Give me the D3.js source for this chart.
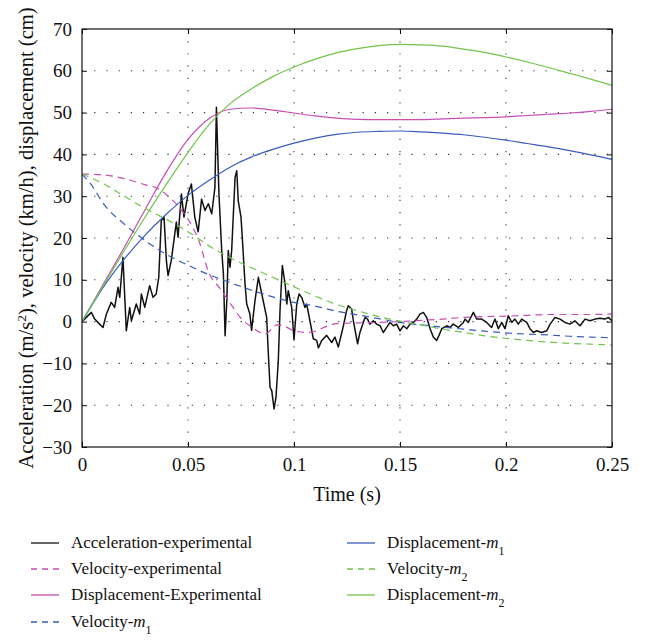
<!DOCTYPE html>
<html>
<head>
<meta charset="utf-8">
<script src="https://cdn.jsdelivr.net/npm/d3@7"></script>
<style>
  body { margin: 0; background: #fff; }
  text { font-family: "Liberation Serif", "Times New Roman", serif; fill: #111; }
</style>
</head>
<body>
<div id="scene"></div>
<script>
// time grid for the smooth curves (s)
const tGrid = [0, 0.01, 0.02, 0.03, 0.04, 0.05, 0.06, 0.07, 0.08, 0.09, 0.1, 0.11, 0.12,
  0.13, 0.14, 0.15, 0.16, 0.17, 0.18, 0.19, 0.2, 0.21, 0.22, 0.23, 0.24, 0.25];

const dispExp = [0, 8.9, 17.8, 27, 36, 43.6, 48.6, 50.8, 51.1, 50.6, 49.9, 49.2, 48.7,
  48.4, 48.3, 48.3, 48.3, 48.5, 48.7, 48.8, 49, 49.3, 49.6, 49.9, 50.3, 50.8];
const dispM1 = [0, 8.2, 15, 20.8, 25.8, 30.2, 33.8, 37, 39.4, 41.2, 42.7, 43.9, 44.8,
  45.3, 45.5, 45.6, 45.4, 45.1, 44.7, 44.1, 43.4, 42.6, 41.8, 40.9, 39.9, 38.8];
const dispM2 = [0, 8.6, 17, 25.2, 33, 40.5, 47.2, 52.2, 55.7, 58.6, 60.9, 62.8, 64.3,
  65.3, 66, 66.3, 66.2, 65.9, 65.2, 64.4, 63.3, 62.1, 60.8, 59.4, 58, 56.5];
const velM2 = [35.3, 33, 30, 27, 24.4, 21.5, 18.1, 15.2, 12.9, 10.6, 8.3, 6.1, 4.1,
  2.6, 1.2, 0.1, -0.8, -1.8, -2.6, -3.4, -4, -4.5, -4.9, -5.2, -5.4, -5.6];

const velM1T = [0, 0.005, 0.01, 0.02, 0.03, 0.04, 0.05, 0.06, 0.07, 0.08, 0.09, 0.1, 0.11, 0.12,
  0.13, 0.14, 0.15, 0.16, 0.17, 0.18, 0.19, 0.2, 0.21, 0.22, 0.23, 0.24, 0.25];
const velM1 = [35.3, 32.3, 28.3, 23.3, 19.3, 16, 13.5, 11.2, 9.3, 7.5, 5.9, 4.6, 3.7, 2.5,
  1.6, 0.7, -0.2, -0.8, -1.3, -1.8, -2.3, -2.7, -3, -3.2, -3.5, -3.7, -3.9];

const velExpT = [0, 0.01, 0.02, 0.03, 0.035, 0.04, 0.045, 0.05, 0.055, 0.06, 0.065, 0.07, 0.075,
  0.08, 0.0865, 0.092, 0.096, 0.1, 0.106, 0.11, 0.115, 0.12, 0.13, 0.14, 0.15, 0.16, 0.17, 0.18,
  0.19, 0.2, 0.21, 0.22, 0.23, 0.24, 0.25];
const velExp = [35.3, 35.1, 34.2, 32.7, 32, 30.3, 27.8, 24.5, 19.5, 11.5, 8, 4.3, 0.8,
  -1.3, -2.9, -0.8, -1.2, -2.2, -2.6, -2.3, -1.2, -0.5, -0.3, -0.2, 0, 0.3, 0.6, 1,
  1.2, 1.3, 1.5, 1.7, 1.7, 1.7, 1.8];

const accT = [0, 0.0044, 0.006, 0.0083, 0.0099, 0.0115, 0.0138, 0.0154, 0.017, 0.0178, 0.0193,
  0.0209, 0.0225, 0.0233, 0.0256, 0.0272, 0.028, 0.0296, 0.0319, 0.0335, 0.035, 0.0362, 0.0374,
  0.0387, 0.0398, 0.0406, 0.0421, 0.0445, 0.0453, 0.0469, 0.0481, 0.05, 0.0516, 0.0532, 0.0548,
  0.0564, 0.058, 0.0596, 0.0612, 0.0627, 0.0634, 0.0646, 0.0659, 0.0667, 0.0675, 0.0683, 0.069,
  0.0698, 0.0706, 0.0722, 0.073, 0.0737, 0.075, 0.0756, 0.0769, 0.0777, 0.0792, 0.08, 0.0816,
  0.0832, 0.0848, 0.0871, 0.0879, 0.0887, 0.0895, 0.0906, 0.0915, 0.0926, 0.0934, 0.0945, 0.0958,
  0.0966, 0.0973, 0.0989, 0.1, 0.1013, 0.1024, 0.1036, 0.1052, 0.106, 0.1075, 0.1091, 0.1107,
  0.1115, 0.1131, 0.1154, 0.1178, 0.1193, 0.1209, 0.1233, 0.1248, 0.1256, 0.1272, 0.128, 0.13,
  0.1311, 0.1327, 0.1335, 0.1347, 0.1358, 0.1374, 0.139, 0.1406, 0.1421, 0.1437, 0.1453, 0.1469,
  0.1484, 0.15, 0.1516, 0.1532, 0.1547, 0.1563, 0.1579, 0.1594, 0.161, 0.1626, 0.1642, 0.1657,
  0.1673, 0.1684, 0.1697, 0.172, 0.1736, 0.1751, 0.1775, 0.1799, 0.1807, 0.1822, 0.1846, 0.1862,
  0.1885, 0.1909, 0.1932, 0.1948, 0.1964, 0.198, 0.1995, 0.2011, 0.2027, 0.2042, 0.2058, 0.2074,
  0.2098, 0.2113, 0.2129, 0.2145, 0.2168, 0.2192, 0.2208, 0.2231, 0.2255, 0.2278, 0.2302, 0.2325,
  0.2349, 0.2373, 0.2396, 0.242, 0.2443, 0.2467, 0.2483, 0.25];
const accV = [0, 2.2, 0.6, -0.6, -1.4, 1.8, 4.6, 3.4, 8.2, 5.8, 15.4,
  -2.2, 3.4, 0.2, 4.2, 1.8, 6.6, 3.4, 8.6, 5.8, 6.6, 10.6, 24.2,
  25, 14.6, 11, 14.6, 23.8, 20.2, 30.5, 25, 30.5, 32.9, 25, 21.5,
  29.3, 26.6, 28.2, 25.8, 32.1, 51.3, 30.5, 17, 11.4, -3.4, 5, 17,
  13, 17, 34.5, 36.1, 28.9, 25, 20.2, 9, 4.2, 1.8, -2.1, 5,
  10.6, 6.6, 1, -7.7, -15.7, -16.5, -20.9, -18.1, -9.3, 2.6, 13.4, 9,
  4.2, 7.4, 3.4, -4.4, 4.2, 6.6, 5.8, 3.4, 4.2, 0.2, -4.1, -4.5,
  -6.3, -4.5, -3.3, -5, -3.7, -6.1, -1, 2.6, 3.8, 3, 0.2, -5.3,
  -2.6, -0.2, 1, 0.6, -0.6, 0.2, -0.6, -1, -2.6, -1.4, -0.2, -1,
  -0.6, -2.2, -1, -1.7, -0.6, -0.2, 0.6, 1.8, 2.2, 1, -1.7, -3.7,
  -4.5, -3.3, -1.7, -1, -1.4, -0.6, -1.4, -0.2, 0.6, -0.2, 2.2, 0.6,
  0.6, -0.2, -1.4, 0.6, -1.7, -0.2, -1.7, 1.4, -0.2, 0.6, -0.6, 0.6,
  -0.2, -1.7, -2.6, -2.2, -2.6, -2.2, -0.6, 1, 0.6, -0.2, -0.6, 0.2,
  -1, 0.6, 0.2, 0.6, 0.8, 0.6, 1, 0.2];

const xTicks = [0, 0.05, 0.1, 0.15, 0.2, 0.25];
const yTicks = [-30, -20, -10, 0, 10, 20, 30, 40, 50, 60, 70];

const colMag = "#c64db5", colBlue = "#3a5cbd", colGreen = "#72c44c";

const series = [
  { name: "Acceleration-experimental", t: accT, v: accV, color: "#111", dash: null, w: 1.5, smooth: false },
  { name: "Velocity-experimental", t: velExpT, v: velExp, color: colMag, dash: "7,5", w: 1.2, smooth: true },
  { name: "Displacement-Experimental", t: tGrid, v: dispExp, color: colMag, dash: null, w: 1.2, smooth: true },
  { name: "Velocity-", sub: "1", t: velM1T, v: velM1, color: colBlue, dash: "7,5", w: 1.2, smooth: true },
  { name: "Displacement-", sub: "1", t: tGrid, v: dispM1, color: colBlue, dash: null, w: 1.2, smooth: true },
  { name: "Velocity-", sub: "2", t: tGrid, v: velM2, color: colGreen, dash: "7,5", w: 1.2, smooth: true },
  { name: "Displacement-", sub: "2", t: tGrid, v: dispM2, color: colGreen, dash: null, w: 1.2, smooth: true }
];

const W = 648, H = 641;
const pLeft = 82, pTop = 29, pRight = 612, pBottom = 447;

const svg = d3.select("#scene").append("svg")
  .attr("width", W)
  .attr("height", H);

const x = d3.scaleLinear().domain([0, 0.25]).range([pLeft, pRight]);
const y = d3.scaleLinear().domain([-30, 70]).range([pBottom, pTop]);

// dotted grid
svg.append("g").selectAll("line")
  .data(xTicks.slice(1, -1))
  .enter().append("line")
  .attr("x1", d => x(d)).attr("x2", d => x(d))
  .attr("y1", pTop).attr("y2", pBottom)
  .style("stroke", "#333").style("stroke-width", 1.1)
  .style("stroke-dasharray", "1.2,11");

svg.append("g").selectAll("line")
  .data(yTicks.slice(1, -1))
  .enter().append("line")
  .attr("x1", pLeft).attr("x2", pRight)
  .attr("y1", d => y(d)).attr("y2", d => y(d))
  .style("stroke", "#333").style("stroke-width", 1.1)
  .style("stroke-dasharray", "1.2,11");

svg.append("clipPath").attr("id", "plotclip")
  .append("rect").attr("x", pLeft).attr("y", pTop)
  .attr("width", pRight - pLeft).attr("height", pBottom - pTop);

const plot = svg.append("g").attr("clip-path", "url(#plotclip)");

series.forEach(s => {
  const pts = s.t.map((t, i) => [t, s.v[i]]);
  const line = d3.line()
    .x(d => x(d[0]))
    .y(d => y(d[1]))
    .curve(s.smooth ? d3.curveMonotoneX : d3.curveLinear);
  plot.append("path")
    .datum(pts)
    .attr("d", line)
    .style("fill", "none")
    .style("stroke", s.color)
    .style("stroke-width", s.w)
    .style("stroke-linejoin", "round")
    .style("stroke-dasharray", s.dash);
});

// axes: ticks inward on all four sides
const tickLen = 5;
const fmtX = d => d === 0 ? "0" : d3.format("")(d);

svg.append("g")
  .attr("transform", `translate(0,${pBottom})`)
  .call(d3.axisBottom(x).tickValues(xTicks).tickSizeInner(-tickLen).tickSizeOuter(0).tickPadding(11).tickFormat(fmtX))
  .call(g => g.select(".domain").remove());

svg.append("g")
  .attr("transform", `translate(0,${pTop})`)
  .call(d3.axisTop(x).tickValues(xTicks).tickSizeInner(-tickLen).tickSizeOuter(0).tickFormat(""))
  .call(g => g.select(".domain").remove());

svg.append("g")
  .attr("transform", `translate(${pLeft},0)`)
  .call(d3.axisLeft(y).tickValues(yTicks).tickSizeInner(-tickLen).tickSizeOuter(0).tickPadding(10)
    .tickFormat(d => d < 0 ? "\u2212" + Math.abs(d) : d))
  .call(g => g.select(".domain").remove());

svg.append("g")
  .attr("transform", `translate(${pRight},0)`)
  .call(d3.axisRight(y).tickValues(yTicks).tickSizeInner(-tickLen).tickSizeOuter(0).tickFormat(""))
  .call(g => g.select(".domain").remove());

svg.selectAll(".tick text")
  .style("font-family", "'Liberation Serif', serif")
  .style("font-size", "19px")
  .style("fill", "#111");
svg.selectAll(".tick line").style("stroke", "#111");

svg.append("rect")
  .attr("x", pLeft).attr("y", pTop)
  .attr("width", pRight - pLeft).attr("height", pBottom - pTop)
  .style("fill", "none").style("stroke", "#111").style("stroke-width", 1.2);

// axis titles
svg.append("text")
  .attr("x", (pLeft + pRight) / 2)
  .attr("y", 501)
  .style("text-anchor", "middle")
  .style("font-size", "20px")
  .text("Time (s)");

const yLab = svg.append("text")
  .attr("transform", `translate(33,238) rotate(-90)`)
  .style("text-anchor", "middle")
  .style("font-size", "20.6px");
yLab.append("tspan").text("Acceleration (m/s");
yLab.append("tspan").attr("baseline-shift", "super").style("font-size", "13.5px").text("2");
yLab.append("tspan").text("), velocity (km/h), displacement (cm)");

// legend
const legendPos = [
  [31, 548], [31, 574], [31, 600], [31, 627],
  [347, 548], [347, 574], [347, 600]
];

series.forEach((s, i) => {
  const [lx, ly] = legendPos[i];
  const g = svg.append("g").attr("transform", `translate(${lx},${ly})`);
  g.append("line")
    .attr("x1", 0).attr("x2", 28)
    .attr("y1", -5).attr("y2", -5)
    .style("stroke", s.color)
    .style("stroke-width", 1.3)
    .style("stroke-dasharray", s.dash ? "6,5" : null);
  const txt = g.append("text")
    .attr("x", 40).attr("y", 0)
    .style("font-size", "17px");
  txt.append("tspan").text(s.name);
  if (s.sub) {
    txt.append("tspan").style("font-style", "italic").text("m");
    txt.append("tspan").attr("baseline-shift", "sub").style("font-size", "12px").text(s.sub);
  }
});
</script>
</body>
</html>
